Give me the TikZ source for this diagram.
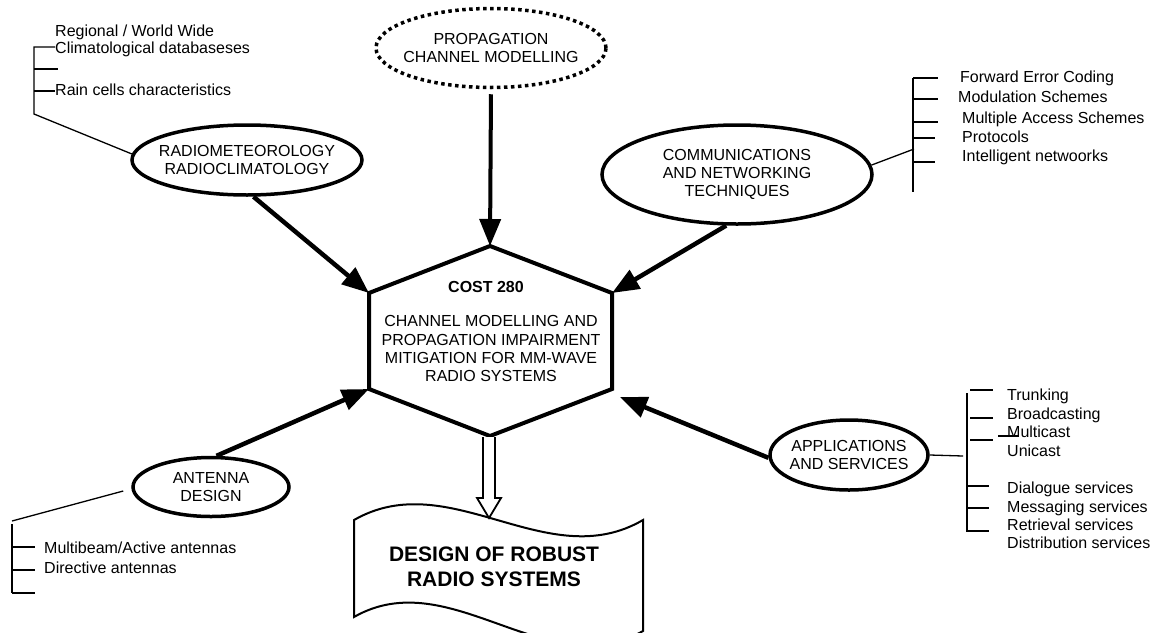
\documentclass[tikz,border=0pt]{standalone}
\usepackage{fontspec}
\setmainfont{Liberation Sans}
\usetikzlibrary{arrows.meta,shapes.geometric,calc}
\begin{document}
\begin{tikzpicture}[x=1pt,y=-1pt,
  oval/.style={draw, ellipse, line width=3.5pt, inner sep=0pt},
  lbl/.style={align=center, inner sep=0pt, font=\fontsize{16}{18.3}\selectfont},
  item/.style={anchor=base west, inner sep=0pt, font=\fontsize{16}{18}\selectfont},
  tick/.style={line width=1.3pt},
  bigarrow/.style={line width=4.5pt, -{Triangle[length=27pt,width=21pt]}},
]
\useasboundingbox (0,0) rectangle (1155,632);

% ---------- ellipses ----------
\node[oval, minimum width=230pt, minimum height=70pt] (radio) at (247,160) {};
\node[lbl] (radiot) at (radio.center) {RADIOMETEOROLOGY\\RADIOCLIMATOLOGY};

\node[oval, dash pattern=on 3.5pt off 3.5pt, minimum width=230pt, minimum height=79pt] (prop) at (491,48) {};
\node[lbl] (propt) at (prop.center) {PROPAGATION\\CHANNEL MODELLING};

\node[oval, minimum width=270pt, minimum height=99pt] (comm) at (737,174.5) {};
\node[lbl] (commt) at (comm.center) {COMMUNICATIONS\\AND NETWORKING\\TECHNIQUES};

\node[oval, minimum width=158pt, minimum height=70pt] (apps) at (849,455) {};
\node[lbl] (appst) at (apps.center) {APPLICATIONS\\AND SERVICES};

\node[oval, minimum width=156pt, minimum height=59pt] (ant) at (211,487) {};
\node[lbl] (antt) at (ant.center) {ANTENNA\\DESIGN};

% ---------- hexagon ----------
\coordinate (h1) at (490,246);
\coordinate (h2) at (612,293);
\coordinate (h3) at (612,389);
\coordinate (h4) at (490,436);
\coordinate (h5) at (369,389);
\coordinate (h6) at (369,293);
\draw[line width=4pt, line join=miter] (h1)--(h2)--(h3)--(h4)--(h5)--(h6)--cycle;
\node[anchor=base, inner sep=0pt, font=\fontsize{16}{18}\selectfont\bfseries] (cost) at (486,292) {COST 280};
\node[lbl, anchor=north] (hex) at (491,315.5) {CHANNEL MODELLING AND\\PROPAGATION IMPAIRMENT\\MITIGATION FOR MM-WAVE\\RADIO SYSTEMS};

% ---------- arrows into hexagon ----------
\draw[bigarrow, line width=4pt, shorten <=5pt] (prop.south) -- (h1);
\draw[bigarrow] (radio.-80) -- (h6);
\draw[bigarrow] (comm.-102) -- (h2);
\draw[bigarrow] (ant.80) -- (h5);
\draw[bigarrow] (apps.182) -- ($(h3)+(8,8)$);

% ---------- banner ----------
\draw[line width=2pt, fill=white] (354,520) .. controls (450,465) and (547,576) .. (643,520)
  -- (643,631) .. controls (547,686) and (450,562) .. (354,617) -- cycle;
\node[align=center, inner sep=0pt, font=\fontsize{21}{25}\selectfont\bfseries] (design) at (494,567) {DESIGN OF ROBUST\\RADIO SYSTEMS};

% ---------- hollow arrow ----------
\coordinate (btop) at (489,518);
\draw[line width=1.8pt, fill=white, line join=miter] (483,437) -- (483,498) -- (477,498) -- (btop) -- (501,498) -- (495,498) -- (495,437);

% ---------- top-left list ----------
\node[item] (r1) at (55,36) {Regional / World Wide};
\node[item] (r2) at (55,53) {Climatological databaseses};
\node[item] (r3) at (55,95) {Rain cells characteristics};
\draw[tick] (55,47) -- (34,47) -- (34,114) -- (radio.177);
\draw[tick] (34,69) -- (58,69);
\draw[tick] (34,91) -- (55,91);

% ---------- communications list ----------
\draw[tick] (comm.4) -- (914,149);
\draw[tick] (913,78) -- (913,192);
\draw[tick] (913,78) -- (938,78);
\draw[tick] (913,99) -- (938,99);
\draw[tick] (913,122) -- (938,122);
\draw[tick] (913,138) -- (935,138);
\draw[tick] (913,162) -- (935,162);
\node[item] (c1) at (960,82) {Forward Error Coding};
\node[item] (c2) at (958,102) {Modulation Schemes};
\node[item] (c3) at (962,123) {Multiple Access Schemes};
\node[item] (c4) at (962,142) {Protocols};
\node[item] (c5) at (962,161) {Intelligent netwoorks};

% ---------- applications list ----------
\draw[tick] (apps.east) -- (963,456);
\draw[tick] (967,393) -- (967,532);
\draw[tick] (970,390) -- (993,390);
\draw[tick] (970,418) -- (993,418);
\draw[tick] (970,440) -- (993,440);
\draw[tick] (998,436) -- (1019,436);
\draw[tick] (967,486) -- (989,486);
\draw[tick] (967,508) -- (989,508);
\draw[tick] (967,531) -- (989,531);
\node[item] (a1) at (1007,400) {Trunking};
\node[item] (a2) at (1007,419) {Broadcasting};
\node[item] (a3) at (1007,437) {Multicast};
\node[item] (a4) at (1007,456) {Unicast};
\node[item] (a5) at (1007,493) {Dialogue services};
\node[item] (a6) at (1007,512) {Messaging services};
\node[item] (a7) at (1007,530) {Retrieval services};
\node[item] (a8) at (1007,548) {Distribution services};

% ---------- antenna list ----------
\draw[tick] ($(ant.west)+(-8,4)$) -- (12,521);
\draw[tick] (12,524) -- (12,593);
\draw[tick] (12,547) -- (35,547);
\draw[tick] (12,570) -- (35,570);
\draw[tick] (12,593) -- (35,593);
\node[item] (d1) at (44,553) {Multibeam/Active antennas};
\node[item] (d2) at (44,573) {Directive antennas};
\end{tikzpicture}
\end{document}
